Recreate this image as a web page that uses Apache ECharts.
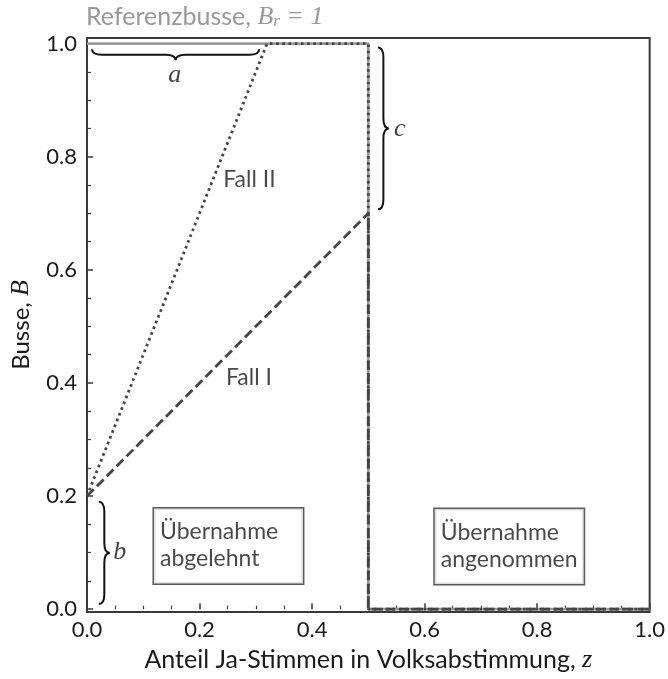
<!DOCTYPE html>
<html>
<head>
<meta charset="utf-8">
<script src="https://cdn.jsdelivr.net/npm/echarts@6/dist/echarts.min.js"></script>
<style>html,body{margin:0;padding:0;background:#fff}#c{width:668px;height:679px}</style>
</head>
<body>
<div id="c"></div>
<script>
// ---- data ----
const refX = [0, 0.5, 0.5, 1];
const refY = [1, 1, 0, 0];
const fall1X = [0, 0.5, 0.5, 1];
const fall1Y = [0.2, 0.7, 0, 0];
const fall2X = [0, 0.32, 0.5, 0.5, 1];
const fall2Y = [0.2, 1, 1, 0, 0];
const xTicks = [0, 0.2, 0.4, 0.6, 0.8, 1.0];
const yTicks = [0, 0.2, 0.4, 0.6, 0.8, 1.0];
const yMinorTicks = [0.05,0.1,0.15,0.25,0.3,0.35,0.45,0.5,0.55,0.65,0.7,0.75,0.85,0.9,0.95];
// braces: [x1, y1, x2, y2, side]
const braces = [[0.009, 0.99, 0.306, 0.99, 1], [0.517, 0.993, 0.517, 0.707, -1], [0.021, 0.19, 0.021, 0.009, -1]];
const braceLabels = ['a', 'c', 'b'];
const braceLabelPos = [[0.156, 0.945], [0.556, 0.848], [0.058, 0.1]];
const caseLabels = ['Fall II', 'Fall I'];
const caseLabelPos = [[0.242, 0.760], [0.247, 0.41]];
const boxLabels = ['Übernahme\nabgelehnt', 'Übernahme\nangenommen'];
const boxLabelPos = [[0.119, 0.178], [0.618, 0.177]];

const zip = (xs, ys) => xs.map((x, i) => [x, ys[i]]);
const FONT = 'Lato';
const MATH = 'Liberation Serif';
const DARK = '#3a3a3a';
const TXT = '#1a1a1a';
const FS = 22;

const chart = echarts.init(document.getElementById('c'), null, {renderer: 'canvas'});

function bracePath(p1, p2, side, d) {
  const dx = p2[0] - p1[0], dy = p2[1] - p1[1];
  const L = Math.hypot(dx, dy);
  const u = [dx / L, dy / L];
  const n = [-u[1] * side, u[0] * side];
  const r = Math.min(d * 0.9, L / 4);
  const P = (base, a, b) => [base[0] + u[0] * a + n[0] * b, base[1] + u[1] * a + n[1] * b];
  const M = [(p1[0] + p2[0]) / 2, (p1[1] + p2[1]) / 2];
  const h = d / 2;
  const pts = [
    ['M', P(p1, 0, 0)],
    ['Q', P(p1, 0, h), P(p1, r, h)],
    ['L', P(M, -r, h)],
    ['Q', P(M, 0, h), P(M, 0, d)],
    ['Q', P(M, 0, h), P(M, r, h)],
    ['L', P(p2, -r, h)],
    ['Q', P(p2, 0, h), P(p2, 0, 0)]
  ];
  return pts.map(s => s[0] + s.slice(1).map(p => p[0].toFixed(2) + ' ' + p[1].toFixed(2)).join(' ')).join(' ');
}

const option = {
  animation: false,
  backgroundColor: '#fff',
  grid: {left: 85, right: 18, top: 38, bottom: 67, show: true, borderColor: DARK, borderWidth: 2, backgroundColor: 'transparent'},
  graphic: [{
    type: 'text', left: 86, top: 4,
    style: {
      rich: {
        t: {fontFamily: FONT, fontSize: 25, fill: '#999'},
        i: {fontFamily: MATH, fontStyle: 'italic', fontSize: 26, fill: '#999'},
        s: {fontFamily: MATH, fontStyle: 'italic', fontSize: 17, fill: '#999', padding: [10, 0, 0, 0]}
      },
      text: '{t|Referenzbusse, }{i|B}{s|r}{i| = 1}'
    }
  }],
  xAxis: {
    type: 'value', min: 0, max: 1, interval: 0.2,
    name: 'Anteil Ja-Stimmen in Volksabstimmung, {i|z}', nameLocation: 'middle', nameGap: 35,
    nameTextStyle: {fontFamily: FONT, fontSize: 25, color: TXT,
      rich: {i: {fontFamily: MATH, fontStyle: 'italic', fontSize: 26, color: TXT}}},
    axisLine: {show: false},
    axisTick: {show: true, inside: true, length: 6, lineStyle: {color: DARK, width: 1.5}},
    minorTick: {show: true, splitNumber: 4, length: 3.5, lineStyle: {color: DARK, width: 1.2}},
    splitLine: {show: false},
    axisLabel: {fontFamily: FONT, fontSize: FS, color: TXT, margin: 7, formatter: v => v.toFixed(1)}
  },
  yAxis: [{
    type: 'value', min: -0.005, max: 1.01,
    name: 'Busse, {i|B}', nameLocation: 'middle', nameGap: 53, nameRotate: 90,
    nameTextStyle: {fontFamily: FONT, fontSize: 24, color: TXT,
      rich: {i: {fontFamily: MATH, fontStyle: 'italic', fontSize: 26, color: TXT}}},
    axisLine: {show: false},
    axisTick: {show: true, inside: true, length: 6, customValues: yTicks, lineStyle: {color: DARK, width: 1.5}},
    splitLine: {show: false},
    axisLabel: {fontFamily: FONT, fontSize: FS, color: TXT, margin: 10, customValues: yTicks, formatter: v => v.toFixed(1)}
  }, {
    type: 'value', min: -0.005, max: 1.01, position: 'left',
    axisLine: {show: false},
    axisTick: {show: true, inside: true, length: 4, customValues: yMinorTicks, lineStyle: {color: DARK, width: 1.2}},
    splitLine: {show: false},
    axisLabel: {show: false}
  }],
  series: [
    {type: 'line', name: 'ref', data: zip(refX, refY), showSymbol: false, symbol: 'none', z: 2,
      lineStyle: {color: '#9a9a9a', width: 2.8, type: 'solid'}},
    {type: 'line', name: 'Fall II', data: zip(fall2X, fall2Y), showSymbol: false, symbol: 'none', z: 3,
      lineStyle: {color: '#444', width: 2.8, type: [2.6, 3.6]}},
    {type: 'line', name: 'Fall I', data: zip(fall1X, fall1Y), showSymbol: false, symbol: 'none', z: 4,
      lineStyle: {color: '#444', width: 2.8, type: [9.5, 4.5]}},
    {type: 'custom', name: 'braces', data: braces, z: 5,
      renderItem: (params, api) => {
        const p1 = api.coord([api.value(0), api.value(1)]);
        const p2 = api.coord([api.value(2), api.value(3)]);
        return {type: 'path', shape: {pathData: bracePath(p1, p2, api.value(4), 11)},
          style: {fill: 'none', stroke: '#111', lineWidth: 2}};
      }},
    {type: 'scatter', name: 'braceLabels', symbolSize: 0, z: 6,
      data: braceLabelPos.map((p, i) => ({value: p, name: braceLabels[i]})),
      label: {show: true, position: 'inside', formatter: p => p.name,
        fontFamily: MATH, fontStyle: 'italic', fontSize: 26, color: '#111'}},
    {type: 'scatter', name: 'caseLabels', symbolSize: 0, z: 6,
      data: caseLabelPos.map((p, i) => ({value: p, name: caseLabels[i]})),
      label: {show: true, position: [0, 0], align: 'left', verticalAlign: 'middle', formatter: p => p.name,
        fontFamily: FONT, fontSize: 23, color: TXT}},
    {type: 'scatter', name: 'boxLabels', symbolSize: 0, z: 6,
      data: boxLabelPos.map((p, i) => ({value: p, name: boxLabels[i]})),
      label: {show: true, position: [0, 0], align: 'left', verticalAlign: 'top', formatter: p => p.name,
        fontFamily: FONT, fontSize: 23, color: TXT, lineHeight: 27, width: 137,
        borderColor: '#333', borderWidth: 1.5, padding: [10, 6, 11, 6], backgroundColor: '#fff'}}
  ]
};
chart.setOption(option);
</script>
</body>
</html>
